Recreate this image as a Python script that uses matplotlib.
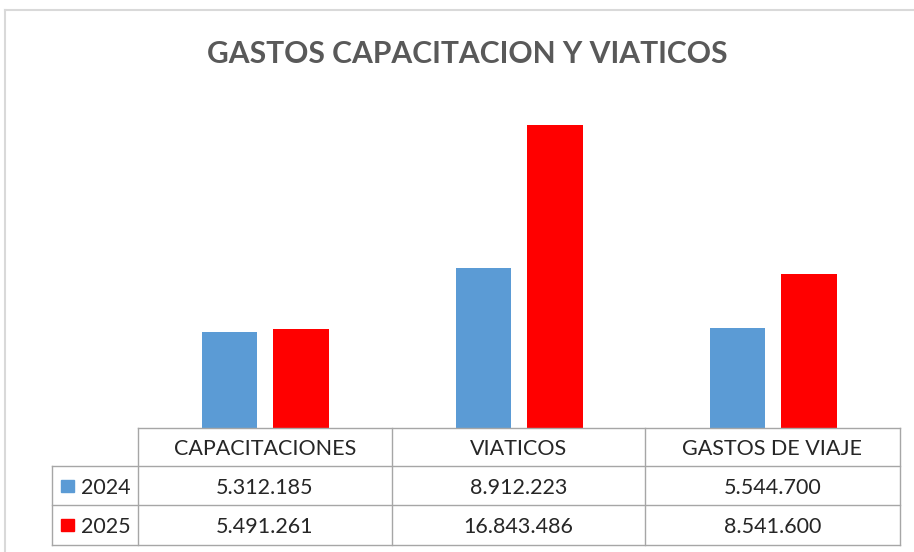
import matplotlib.pyplot as plt
from matplotlib.patches import Rectangle
from matplotlib.lines import Line2D
import numpy as np

categories = ["CAPACITACIONES", "VIATICOS", "GASTOS DE VIAJE"]
years = ["2024", "2025"]
values_2024 = [5312185, 8912223, 5544700]
values_2025 = [5491261, 16843486, 8541600]
labels_2024 = ["5.312.185", "8.912.223", "5.544.700"]
labels_2025 = ["5.491.261", "16.843.486", "8.541.600"]
colors = ["#5B9BD5", "#FF0000"]

W, H = 914, 552
fig = plt.figure(figsize=(W / 100, H / 100), dpi=100)
fig.patch.set_facecolor("white")

def fx(px):
    return px / W

def fy(py):
    return 1 - py / H

FONT = "Lato"
TXT = "#262626"
GRID = "#A6A6A6"
FS = 15.5

# chart frame (top and left edges visible)
fig.add_artist(Line2D([fx(5), fx(914)], [fy(10), fy(10)], color="#D9D9D9", lw=1.5))
fig.add_artist(Line2D([fx(5), fx(5)], [fy(10), fy(552)], color="#D9D9D9", lw=1.5))

# plot area
left, right, top, base = 138, 900, 104, 428
ax = fig.add_axes([fx(left), fy(base), fx(right - left), (base - top) / H])
x = np.arange(len(categories))
ax.bar(x - 0.14, values_2024, width=0.22, color=colors[0])
ax.bar(x + 0.14, values_2025, width=0.22, color=colors[1])
ax.set_xlim(-0.5, 2.5)
ax.set_ylim(0, 18000000)
ax.axis("off")

fig.text(fx(467), fy(63), "GASTOS CAPACITACION Y VIATICOS", ha="center", va="baseline",
         fontsize=21.6, fontweight="bold", color="#595959", family=FONT)

# data table
col_edges = [138, 392, 645, 900]
row_edges = [428, 466, 505, 545]
rh_left = 52

def hline(y, x0, x1):
    fig.add_artist(Line2D([fx(x0), fx(x1)], [fy(y), fy(y)], color=GRID, lw=1))

def vline(xp, y0, y1):
    fig.add_artist(Line2D([fx(xp), fx(xp)], [fy(y0), fy(y1)], color=GRID, lw=1))

hline(row_edges[0], col_edges[0], col_edges[-1])
for r in row_edges[1:]:
    hline(r, rh_left, col_edges[-1])
vline(rh_left, row_edges[1], row_edges[-1])
for c in col_edges:
    vline(c, row_edges[0], row_edges[-1])

def cell_text(xp, yp, s, ha="center"):
    fig.text(fx(xp), fy(yp), s, ha=ha, va="center_baseline",
             fontsize=FS, color=TXT, family=FONT)

for i, cat in enumerate(categories):
    cx = (col_edges[i] + col_edges[i + 1]) / 2
    cell_text(cx, (row_edges[0] + row_edges[1]) / 2, cat)
    cell_text(cx, (row_edges[1] + row_edges[2]) / 2, labels_2024[i])
    cell_text(cx, (row_edges[2] + row_edges[3]) / 2, labels_2025[i])

for j, yr in enumerate(years):
    cy = (row_edges[j + 1] + row_edges[j + 2]) / 2
    fig.add_artist(Rectangle((fx(61), fy(cy + 6)), fx(13), 12 / H, color=colors[j]))
    cell_text(81, cy, yr, ha="left")

fig.savefig("out.png", dpi=100)
